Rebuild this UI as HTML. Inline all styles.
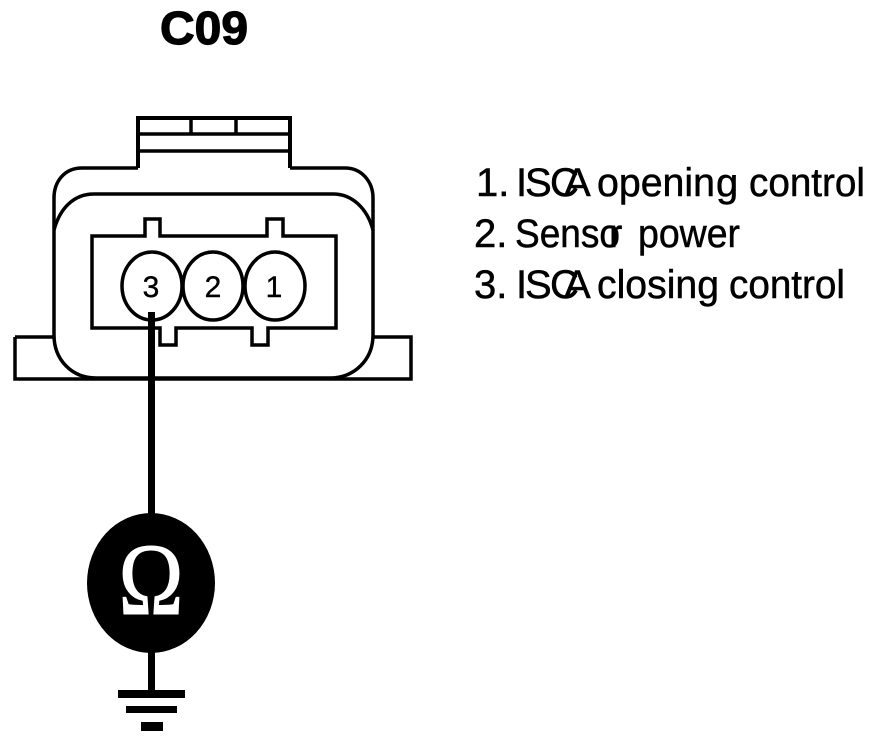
<!DOCTYPE html>
<html><head><meta charset="utf-8"><style>
html,body{margin:0;padding:0;background:#fff;width:896px;height:744px;overflow:hidden}
svg{display:block}
text{font-family:"Liberation Sans",sans-serif;fill:#000}
</style></head><body>
<svg width="896" height="744" viewBox="0 0 896 744" xmlns="http://www.w3.org/2000/svg">
<rect width="896" height="744" fill="#fff"/>
<text x="160" y="44" font-size="46" font-weight="bold" textLength="88" lengthAdjust="spacingAndGlyphs" stroke="#000" stroke-width="1.2">C09</text>
<g fill="none" stroke="#000" stroke-width="3.5">
<path d="M15 337H54M373 337H411V379H15V337" />
<path d="M138 168V118H290V168" stroke-width="4"/>
<path d="M138 134H290M138 151H290" />
<path d="M191 118V134M236 118V134" />
<path d="M138 168H82C64 168 54 182 54 198V335C54 360 72 378 96 378H330C354 378 373 360 373 335V198C373 182 362 168 345 168H290"/>
<path d="M54 230C60 208 74 194 94 194H333C352 194 367 208 373 230"/>
<path d="M92 236H145V219H160V236H267V219H283V236H336V328H268V345H252V328H176V345H160V328H92Z"/>
<ellipse cx="152" cy="286" rx="30" ry="34" fill="#fff"/>
<ellipse cx="213" cy="286" rx="30" ry="34" fill="#fff"/>
<ellipse cx="275" cy="286" rx="30" ry="34" fill="#fff"/>
</g>
<g font-size="30" stroke="#000" stroke-width="0.4">
<text x="151" y="297" text-anchor="middle">3</text>
<text x="213" y="297" text-anchor="middle">2</text>
<text x="274" y="297" text-anchor="middle">1</text>
</g>
<rect x="148" y="312" width="7" height="205" fill="#000"/>
<ellipse cx="151" cy="583" rx="64" ry="70" fill="#000"/>
<text x="151" y="614" font-size="103" text-anchor="middle" style="font-family:'Liberation Serif',serif;fill:#fff;stroke:#fff;stroke-width:1" textLength="65" lengthAdjust="spacingAndGlyphs">Ω</text>
<rect x="148" y="650" width="7" height="42" fill="#000"/>
<rect x="118" y="690" width="67" height="8" fill="#000"/>
<rect x="126" y="706" width="51" height="7" fill="#000"/>
<rect x="141" y="722" width="22" height="9" fill="#000"/>
<g font-size="40" stroke="#000" stroke-width="0.5">
<text x="476" y="196">1.</text>
<text x="516" y="196">I</text>
<text x="525" y="196">S</text>
<text x="550" y="196">C</text>
<text x="564" y="196">A</text>
<text x="597" y="196" textLength="118" lengthAdjust="spacingAndGlyphs">openin</text>
<text x="716" y="196">g</text>
<text x="749" y="196" textLength="116" lengthAdjust="spacingAndGlyphs">control</text>
<text x="474" y="247">2.</text>
<text x="515" y="247" textLength="105" lengthAdjust="spacingAndGlyphs">Senso</text>
<text x="609" y="247">r</text>
<text x="638" y="247" textLength="102" lengthAdjust="spacingAndGlyphs">power</text>
<text x="474" y="298">3.</text>
<text x="516" y="298">I</text>
<text x="525" y="298">S</text>
<text x="550" y="298">C</text>
<text x="564" y="298">A</text>
<text x="597" y="298" textLength="122" lengthAdjust="spacingAndGlyphs">closing</text>
<text x="729" y="298" textLength="116" lengthAdjust="spacingAndGlyphs">control</text>
</g>
</svg>
</body></html>
